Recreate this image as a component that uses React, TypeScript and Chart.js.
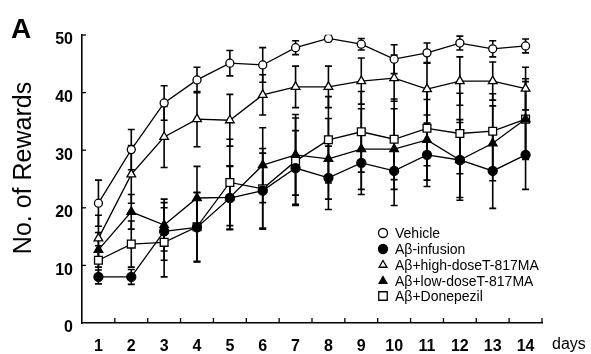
import React, { useEffect, useRef } from "react";
import { Chart, registerables } from "chart.js";

Chart.register(...registerables);

const days = ["1", "2", "3", "4", "5", "6", "7", "8", "9", "10", "11", "12", "13", "14"];
const yTicks = [0, 10, 20, 30, 40, 50];

const vehicle = [20.8, 30.1, 38.2, 42.2, 45.1, 44.8, 47.8, 49.4, 48.4, 45.8, 46.9, 48.6, 47.6, 48.1];
const vehicleErr = [4, 3.5, 3, 2.2, 2.2, 3, 1.2, 0.5, 1, 2.5, 1.7, 1.2, 1.4, 1.2];
const abInfusion = [8.0, 8.0, 15.9, 16.6, 21.7, 23.0, 26.9, 25.2, 27.8, 26.4, 29.2, 28.3, 26.4, 29.2];
const abInfusionErr = [1.2, 1.3, 5, 6, 5.5, 6.5, 6.5, 5.5, 5.5, 6, 5.5, 6.5, 6.5, 6];
const highDose = [14.7, 25.8, 32.3, 35.4, 35.2, 39.6, 41.0, 41.0, 42.0, 42.5, 40.6, 42.0, 42.0, 40.7];
const highDoseErr = [4, 5, 5.3, 4.8, 4.5, 3.5, 3.6, 3.6, 4, 4, 4.5, 4.2, 3.3, 3.7];
const lowDose = [12.7, 19.3, 17.0, 21.7, 21.8, 27.4, 29.2, 28.5, 30.2, 30.2, 31.8, 28.3, 31.2, 35.4];
const lowDoseErr = [3, 3, 4.5, 5.5, 5.5, 6.5, 7, 7, 7, 7, 7, 7, 6.5, 7];
const donepezil = [10.9, 13.7, 14.0, 16.7, 24.4, 23.3, 28.1, 31.8, 33.2, 31.9, 33.8, 32.9, 33.3, 35.4];
const donepezilErr = [2.5, 4, 6, 6, 7.5, 7, 7.5, 7.5, 7, 7, 6.5, 7, 6.5, 6.5];

const labels = ["Vehicle", "Aβ-infusion", "Aβ+high-doseT-817MA", "Aβ+low-doseT-817MA", "Aβ+Donepezil"];
const values = [vehicle, abInfusion, highDose, lowDose, donepezil];
const errors = [vehicleErr, abInfusionErr, highDoseErr, lowDoseErr, donepezilErr];
const styles = ["circle", "circle", "triangle", "triangle", "rect"];
const fills = ["#ffffff", "#000000", "#ffffff", "#000000", "#ffffff"];
const radii = [4, 4.5, 5, 5, 5.5];

const FONT = "'Liberation Sans', Arial, sans-serif";

function drawMarker(ctx: CanvasRenderingContext2D, style: string, x: number, y: number, r: number, fill: string) {
  ctx.save();
  ctx.beginPath();
  if (style === "circle") {
    ctx.arc(x, y, r, 0, Math.PI * 2);
  } else if (style === "triangle") {
    ctx.moveTo(x, y - r);
    ctx.lineTo(x + r * 0.866, y + r * 0.5);
    ctx.lineTo(x - r * 0.866, y + r * 0.5);
    ctx.closePath();
  } else {
    const s = r * Math.SQRT1_2;
    ctx.rect(x - s, y - s, 2 * s, 2 * s);
  }
  ctx.fillStyle = fill;
  ctx.fill();
  ctx.strokeStyle = "#000";
  ctx.lineWidth = 1.3;
  ctx.stroke();
  ctx.restore();
}

const decorPlugin = {
  id: "decor",
  beforeDatasetsDraw(chart: any) {
    const ctx = chart.ctx;
    const xs = chart.scales.x;
    const ys = chart.scales.y;
    ctx.save();
    ctx.strokeStyle = "#000";
    ctx.lineWidth = 1.6;
    values.forEach((arr, di) => {
      arr.forEach((v, i) => {
        const e = errors[di][i];
        const x = xs.getPixelForValue(i);
        const yt = ys.getPixelForValue(v + e);
        const yb = ys.getPixelForValue(v - e);
        ctx.beginPath();
        ctx.moveTo(x, yt);
        ctx.lineTo(x, yb);
        ctx.moveTo(x - 3.5, yt);
        ctx.lineTo(x + 3.5, yt);
        ctx.moveTo(x - 3.5, yb);
        ctx.lineTo(x + 3.5, yb);
        ctx.stroke();
      });
    });
    // inward x ticks at category boundaries
    const step = xs.width / days.length;
    ctx.lineWidth = 1.3;
    for (let i = 1; i <= days.length; i++) {
      const x = xs.left + i * step;
      ctx.beginPath();
      ctx.moveTo(x, xs.top);
      ctx.lineTo(x, xs.top - 5);
      ctx.stroke();
    }
    // inward y ticks
    yTicks.forEach((v) => {
      if (v === 0) return;
      const y = ys.getPixelForValue(v);
      ctx.beginPath();
      ctx.moveTo(ys.right, y);
      ctx.lineTo(ys.right + 4, y);
      ctx.stroke();
    });
    ctx.restore();
  },
  afterDraw(chart: any) {
    const ctx = chart.ctx;
    ctx.save();
    ctx.fillStyle = "#000";
    // panel letter
    ctx.font = `bold 28px ${FONT}`;
    ctx.textAlign = "left";
    ctx.textBaseline = "alphabetic";
    ctx.fillText("A", 11, 38);
    // y title
    ctx.save();
    ctx.translate(31, 168);
    ctx.rotate(-Math.PI / 2);
    ctx.font = `25px ${FONT}`;
    ctx.textAlign = "center";
    ctx.textBaseline = "alphabetic";
    ctx.fillText("No. of Rewards", 0, 0);
    ctx.restore();
    // days
    ctx.font = `16px ${FONT}`;
    ctx.textAlign = "left";
    ctx.textBaseline = "middle";
    ctx.fillText("days", 552, 345);
    // legend
    const rows = [233, 249, 265, 281, 296];
    ctx.font = `14px ${FONT}`;
    labels.forEach((lab, i) => {
      drawMarker(ctx, styles[i], 383, rows[i], i === 4 ? 6 : 4.5, fills[i]);
      ctx.fillStyle = "#000";
      ctx.textAlign = "left";
      ctx.textBaseline = "middle";
      ctx.fillText(lab, 395, rows[i] + 1);
    });
    ctx.restore();
  },
};

export default function App() {
  const ref = useRef<HTMLCanvasElement>(null);
  useEffect(() => {
    document.body.style.margin = "0";
    const canvas = ref.current!;
    const chart = new Chart(canvas, {
      type: "line",
      data: {
        labels: days,
        datasets: values.map((arr, i) => ({
          label: labels[i],
          data: arr,
          borderColor: "#000",
          borderWidth: 1.3,
          pointStyle: styles[i] as any,
          pointRadius: radii[i],
          pointBackgroundColor: fills[i],
          pointBorderColor: "#000",
          pointBorderWidth: 1.3,
          tension: 0,
          fill: false,
        })),
      },
      options: {
        responsive: false,
        animation: false,
        layout: { padding: { top: 35, right: 49, left: 0, bottom: 0 } },
        plugins: { legend: { display: false }, tooltip: { enabled: false } },
        scales: {
          x: {
            type: "category",
            offset: true,
            grid: { display: false, drawTicks: false },
            border: { display: true, color: "#000", width: 1.6 },
            ticks: {
              color: "#000",
              font: { family: FONT, size: 16, weight: "bold" },
              padding: 14,
              maxRotation: 0,
              autoSkip: false,
            },
            afterFit: (s: any) => {
              s.height = 31;
            },
          },
          y: {
            min: 0,
            max: 50,
            afterBuildTicks: (s: any) => {
              s.ticks = yTicks.map((v) => ({ value: v }));
            },
            grid: { display: false, drawTicks: false },
            border: { display: true, color: "#000", width: 1.6 },
            ticks: {
              color: "#000",
              font: { family: FONT, size: 16, weight: "bold" },
              padding: 9,
              labelOffset: 5,
            },
            afterFit: (s: any) => {
              s.width = 82;
            },
          },
        },
      },
      plugins: [decorPlugin],
    });
    return () => chart.destroy();
  }, []);
  return (
    <div style={{ width: 591, height: 354 }}>
      <canvas ref={ref} width={591} height={354} style={{ display: "block" }} />
    </div>
  );
}
